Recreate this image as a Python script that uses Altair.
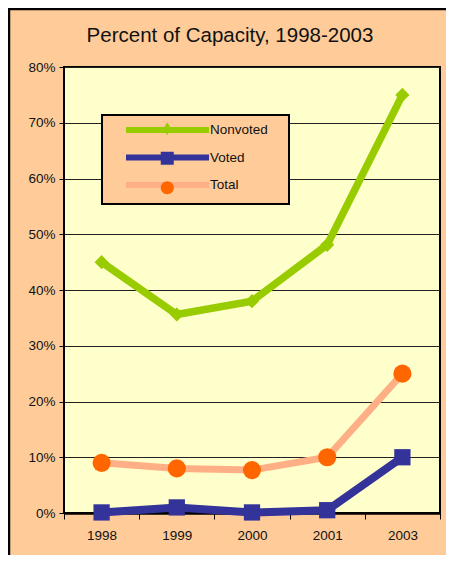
import altair as alt
import pandas as pd

# ---- data ----
years = ["1998", "1999", "2000", "2001", "2003"]
nonvoted = [45.0, 35.6, 38.0, 48.1, 75.0]
voted = [0.1, 1.0, 0.1, 0.5, 10.0]
total = [9.0, 8.0, 7.7, 10.0, 25.0]
series_names = ["Nonvoted", "Voted", "Total"]
y_ticks = [0, 10, 20, 30, 40, 50, 60, 70, 80]

line_colors = ["#99CC00", "#333399", "#FFAF85"]
marker_colors = ["#99CC00", "#333399", "#FF6600"]
marker_shapes = ["diamond", "square", "circle"]
marker_sizes = [200, 330, 330]

# legend symbol paths (line segment and marker offset to the right of symbol centre)
legend_line_path = "M1.8,0H18.4"
legend_marker_paths = [
    "M10.3,-1.3L11.1,0L10.3,1.3L9.5,0Z",
    "M9,-1.3H11.6V1.3H9Z",
    "M9,0A1.3,1.3,0,1,1,11.6,0A1.3,1.3,0,1,1,9,0Z",
]

rows = []
for name, vals in zip(series_names, [nonvoted, voted, total]):
    for yr, v in zip(years, vals):
        rows.append({"year": yr, "series": name, "value": v})
df = pd.DataFrame(rows)

FONT = "Liberation Sans, Arial, sans-serif"
PEACH = "#FFCC99"
NBSP = "\u00a0"

x_enc = alt.X(
    "year:O",
    scale=alt.Scale(type="band", domain=years, paddingInner=0, paddingOuter=0),
    bandPosition=0.5,
    axis=alt.Axis(title=None, labelAngle=0, tickBand="extent", grid=False),
)
y_enc = alt.Y(
    "value:Q",
    scale=alt.Scale(domain=[0, 80], nice=False, zero=True),
    axis=alt.Axis(title=None, values=y_ticks, labelExpr="datum.value + '%'", grid=True),
)

common_legend = dict(
    orient="none",
    legendX=38,
    legendY=48,
    symbolSize=100,
    padding=7,
    labelFont=FONT,
    labelFontSize=13.5,
    labelColor="#111111",
    labelOffset=85,
)

line_legend = alt.Legend(
    title=NBSP,
    titleOrient="right",
    titlePadding=14,
    titleFontSize=10,
    symbolType=legend_line_path,
    symbolStrokeWidth=6,
    rowPadding=3.5,
    fillColor=PEACH,
    strokeColor="black",
    **common_legend,
)
marker_legend = alt.Legend(
    title=None,
    symbolStrokeWidth=0,
    rowPadding=14.5,
    labelExpr="''",
    **common_legend,
)

stroke_enc = alt.Stroke(
    "series:N", scale=alt.Scale(domain=series_names, range=line_colors), legend=line_legend
)

lines_nonvoted = (
    alt.Chart(df)
    .transform_filter("datum.series == 'Nonvoted'")
    .mark_line(strokeCap="butt", strokeWidth=7.5)
    .encode(x=x_enc, y=y_enc, stroke=stroke_enc)
)
lines_voted = (
    alt.Chart(df)
    .transform_filter("datum.series == 'Voted'")
    .mark_line(strokeCap="butt", strokeWidth=8)
    .encode(x=x_enc, y=y_enc, stroke=stroke_enc)
)
lines_total = (
    alt.Chart(df)
    .transform_filter("datum.series == 'Total'")
    .mark_line(strokeCap="butt", strokeWidth=7)
    .encode(x=x_enc, y=y_enc, stroke=stroke_enc)
)

points = alt.Chart(df).mark_point(filled=True, opacity=1).encode(
    x=x_enc,
    y=y_enc,
    fill=alt.Fill("series:N", scale=alt.Scale(domain=series_names, range=marker_colors), legend=None),
    shape=alt.Shape("series:N", scale=alt.Scale(domain=series_names, range=marker_shapes), legend=None),
    size=alt.Size("series:N", scale=alt.Scale(domain=series_names, range=marker_sizes), legend=None),
)

legend_markers = alt.Chart(df).transform_filter("false").mark_point(filled=True, opacity=1).encode(
    x=x_enc,
    y=y_enc,
    fill=alt.Fill("series:N", scale=alt.Scale(domain=series_names, range=marker_colors), legend=marker_legend),
    shape=alt.Shape("series:N", scale=alt.Scale(domain=series_names, range=legend_marker_paths), legend=marker_legend),
)

frame = alt.Data(values=[{"a": 1}])
border_left = alt.Chart(frame).mark_rule(color="black", strokeWidth=2.5).encode(
    x=alt.value(-55), y=alt.value(-59), y2=alt.value(488)
)
border_top = alt.Chart(frame).mark_rule(color="black", strokeWidth=2.5).encode(
    x=alt.value(-56), x2=alt.value(382), y=alt.value(-58)
)

chart = (
    alt.layer(lines_total, lines_voted, lines_nonvoted, points, legend_markers, border_left, border_top)
    .resolve_scale(fill="independent", shape="independent", size="independent")
    .properties(
        width=376,
        height=446,
        title=alt.TitleParams(
            "Percent of Capacity, 1998-2003",
            font=FONT,
            fontSize=20.5,
            fontWeight="normal",
            color="#111111",
            anchor="middle",
            frame="group",
            dx=-22,
            dy=40,
            offset=0,
        ),
        autosize=alt.AutoSizeParams(type="none"),
        padding={"left": 56, "top": 59, "right": 6, "bottom": 42},
    )
    .configure(background=PEACH)
    .configure_view(fill="#FFFFCC", stroke="black", strokeWidth=2)
    .configure_legend(strokeWidth=2)
    .configure_axisX(
        domainColor="black", domainWidth=2.5, tickColor="black", tickSize=6, tickWidth=1,
        labelFont=FONT, labelFontSize=13.5, labelColor="#111111", labelPadding=9,
    )
    .configure_axisY(
        domain=False, tickColor="black", tickSize=5, tickWidth=1,
        labelFont=FONT, labelFontSize=13.5, labelColor="#111111", labelPadding=4,
        gridColor="#222222", gridWidth=1,
    )
)

chart.save("out.html", embed_options={"renderer": "svg", "actions": False})
